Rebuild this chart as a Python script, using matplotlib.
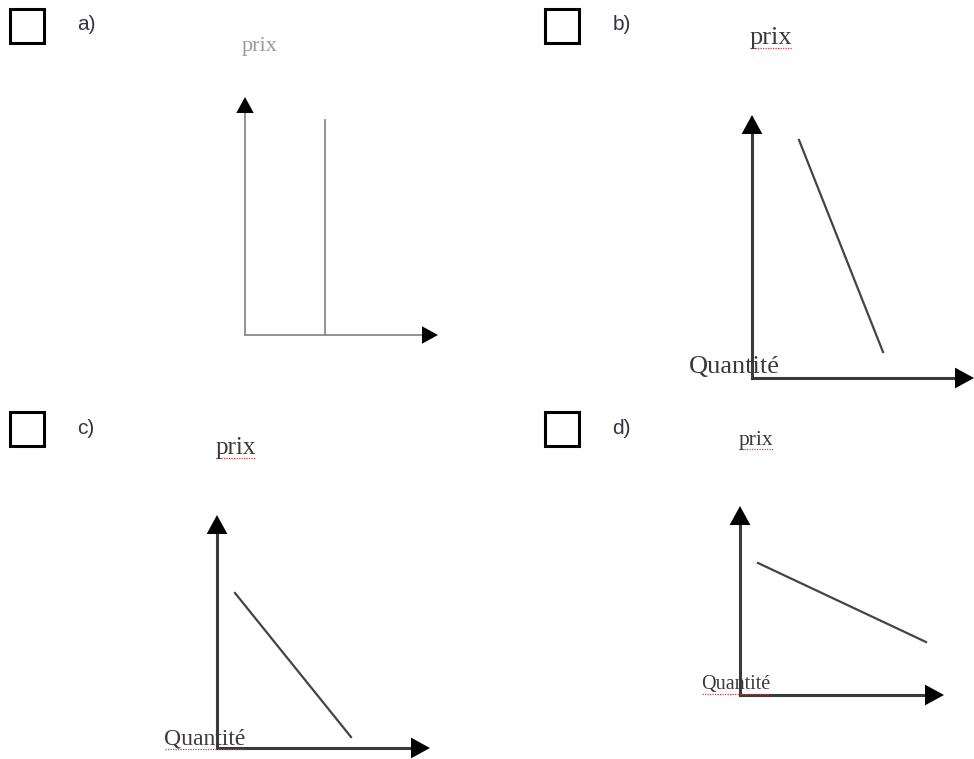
import matplotlib.pyplot as plt

# option labels and their checkbox / label positions (pixel space of the page)
labels = ["a)", "b)", "c)", "d)"]
box_x = [10, 545, 10, 545]
box_y = [9, 9, 412, 412]
label_x = [77, 613, 77, 612]
label_y = [24, 24, 428, 428]

# axes of each small diagram: origin, top of the price axis, end of quantity axis
origin_x = [245, 752, 217, 740]
origin_y = [335, 378, 748, 695]
ytip = [97, 115, 515, 506]
xtip = [438, 974, 430, 944]

# the demand curve of each diagram
curve_x0 = [325, 799, 235, 758]
curve_y0 = [120, 140, 593, 563]
curve_x1 = [325, 883, 351, 926]
curve_y1 = [335, 352, 737, 642]

# axis titles
prix_x = [260, 771, 236, 756]
prix_y = [47, 38, 448, 440]
prix_size = [16, 19, 18, 15.5]
quant_x = [None, 734, 205, 736]
quant_y = [None, 367, 739, 685]
quant_size = [None, 19, 17, 14.5]

fig = plt.figure(figsize=(9.74, 7.59), dpi=100)
ax = fig.add_axes([0, 0, 1, 1])
ax.set_xlim(0, 974)
ax.set_ylim(759, 0)
ax.axis('off')

for i in range(4):
    # checkbox + letter
    ax.add_patch(plt.Rectangle((box_x[i], box_y[i]), 34, 34, fill=False,
                               ec='black', lw=2.2))
    ax.text(label_x[i], label_y[i], labels[i], fontsize=15, color='#333344',
            va='center', ha='left', family='Liberation Sans')

    if i == 0:
        col, lw, hl = '#8a8a8a', 1.3, 16
    else:
        col, lw, hl = '#3a3a3a', 2.2, 19

    # curve
    ax.plot([curve_x0[i], curve_x1[i]], [curve_y0[i], curve_y1[i]],
            color=col if i == 0 else '#444444', lw=1.3 if i == 0 else 1.6)

    # axes lines, then solid black heads
    ax.plot([origin_x[i], origin_x[i]], [origin_y[i], ytip[i] + hl - 2], color=col, lw=lw)
    ax.plot([origin_x[i], xtip[i] - hl + 2], [origin_y[i], origin_y[i]], color=col, lw=lw)
    ms = hl / 0.55 * 72 / 100
    for tip, start in [((origin_x[i], ytip[i]), (origin_x[i], ytip[i] + hl + 4)),
                       ((xtip[i], origin_y[i]), (xtip[i] - hl - 4, origin_y[i]))]:
        ax.annotate('', xy=tip, xytext=start,
                    arrowprops=dict(arrowstyle='-|>,head_length=0.55,head_width=0.3',
                                    lw=0, shrinkA=0, shrinkB=0,
                                    mutation_scale=ms, fc='black', ec='none'))

    # axis titles
    t = ax.text(prix_x[i], prix_y[i], "prix", fontsize=prix_size[i],
                color='#999999' if i == 0 else '#3a3a3a',
                ha='center', va='center', family='Liberation Serif')
    if i > 0:
        w = prix_size[i] * 1.6 * 100 / 72
        ax.plot([prix_x[i] - w / 2, prix_x[i] + w / 2],
                [prix_y[i] + prix_size[i] * 0.55, prix_y[i] + prix_size[i] * 0.55],
                color='#d04040', lw=0.9, ls=(0, (1, 1)))
    if quant_x[i] is not None:
        ax.text(quant_x[i], quant_y[i], "Quantité", fontsize=quant_size[i],
                color='#3a3a3a', ha='center', va='center',
                family='Liberation Serif')
        if i > 1:
            w = quant_size[i] * 3.4 * 100 / 72
            ax.plot([quant_x[i] - w / 2, quant_x[i] + w / 2],
                    [quant_y[i] + quant_size[i] * 0.6, quant_y[i] + quant_size[i] * 0.6],
                    color='#d04040', lw=0.9, ls=(0, (1, 1)))

plt.savefig('out.png', dpi=100)
